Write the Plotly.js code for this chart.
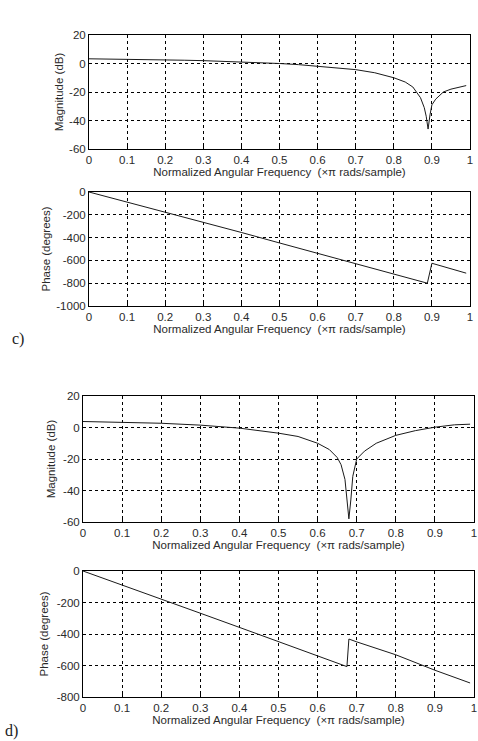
<!DOCTYPE html>
<html>
<head>
<meta charset="utf-8">
<script src="https://cdn.plot.ly/plotly-3.0.1.min.js"></script>
<style>html,body{margin:0;padding:0;background:#fff;}#chart{width:478px;height:741px;}</style>
</head>
<body>
<div id="chart"></div>
<script>
// ---- Data ----
// c) magnitude response
const freqMagC = [0,0.05,0.1,0.15,0.2,0.25,0.3,0.35,0.4,0.45,0.5,0.55,0.6,0.65,0.7,0.75,0.8,0.83,0.85,0.87,0.88,0.885,0.89,0.895,0.9,0.91,0.93,0.95,0.97,0.99];
const magC = [3.3,3.2,3.0,2.8,2.6,2.3,2.0,1.6,1.1,0.6,0,-0.8,-1.8,-3,-4.3,-6.5,-10,-13,-16.5,-24,-31,-37,-46,-36,-29,-25,-20,-18,-16.5,-15.5];
// c) phase response
const freqPhC = [0,0.1,0.2,0.3,0.4,0.5,0.6,0.7,0.8,0.888,0.9,0.99];
const phC = [0,-88,-176,-265,-355,-447,-537,-626,-715,-800,-625,-712];
// d) magnitude response
const freqMagD = [0,0.1,0.2,0.3,0.4,0.5,0.55,0.6,0.63,0.65,0.66,0.67,0.675,0.68,0.685,0.69,0.7,0.72,0.75,0.8,0.85,0.9,0.95,0.99];
const magD = [3.8,3.4,2.7,1.5,-0.4,-3.6,-5.7,-10,-14,-19,-23.6,-33,-43.6,-58,-46,-31,-20,-15,-10,-5,-2,0.2,1.7,2.1];
// d) phase response
const freqPhD = [0,0.1,0.2,0.3,0.4,0.5,0.6,0.675,0.68,0.7,0.8,0.87,0.9,0.99];
const phD = [0,-88,-178,-268,-358,-448,-538,-607,-432,-450,-532,-600,-630,-711];

// tick labels
const xTickVals = [0,0.1,0.2,0.3,0.4,0.5,0.6,0.7,0.8,0.9,1];
const xTickText = ['0','0.1','0.2','0.3','0.4','0.5','0.6','0.7','0.8','0.9','1'];
const magTickVals = [-60,-40,-20,0,20];
const magTickText = ['-60','-40','-20','0','20'];
const phCTickVals = [-1000,-800,-600,-400,-200,0];
const phCTickText = ['-1000','-800','-600','-400','-200','0'];
const phDTickVals = [-800,-600,-400,-200,0];
const phDTickText = ['-800','-600','-400','-200','0'];

const xTitle = 'Normalized Angular Frequency  (\u00d7\u03c0 rads/sample)';
const W = 478, H = 741;
const FONT = 'Liberation Sans, Arial, sans-serif';
const TXT = '#2a2a2a';

function dom(a, b, size) { return [a / size, b / size]; }
function ydom(top, bottom) { return [1 - bottom / H, 1 - top / H]; }

function xaxis(anchor, d) {
  return {
    anchor: anchor, domain: d, range: [0, 1],
    tickvals: xTickVals, ticktext: xTickText,
    ticks: 'inside', ticklen: 3, tickcolor: '#000',
    showline: true, linecolor: '#000', linewidth: 1, mirror: 'ticks',
    showgrid: true, gridcolor: '#000', gridwidth: 1, griddash: 'dot',
    zeroline: false,
    tickfont: {family: FONT, size: 11.5, color: TXT},
    title: {text: xTitle, font: {family: FONT, size: 11.5, color: TXT}, standoff: 3},
    fixedrange: true
  };
}
function yaxis(anchor, d, range, tv, tt, title, standoff) {
  return {
    anchor: anchor, domain: d, range: range,
    tickvals: tv, ticktext: tt,
    ticks: 'inside', ticklen: 3, tickcolor: '#000',
    showline: true, linecolor: '#000', linewidth: 1, mirror: 'ticks',
    showgrid: true, gridcolor: '#000', gridwidth: 1, griddash: 'dot',
    zeroline: false,
    tickfont: {family: FONT, size: 11.5, color: TXT},
    title: {text: title, font: {family: FONT, size: 11.5, color: TXT}, standoff: standoff},
    fixedrange: true
  };
}

const lineStyle = {color: '#1a1a1a', width: 1};
const traces = [
  {x: freqMagC, y: magC, xaxis: 'x', yaxis: 'y', mode: 'lines', line: lineStyle, hoverinfo: 'skip'},
  {x: freqPhC, y: phC, xaxis: 'x2', yaxis: 'y2', mode: 'lines', line: lineStyle, hoverinfo: 'skip'},
  {x: freqMagD, y: magD, xaxis: 'x3', yaxis: 'y3', mode: 'lines', line: lineStyle, hoverinfo: 'skip'},
  {x: freqPhD, y: phD, xaxis: 'x4', yaxis: 'y4', mode: 'lines', line: lineStyle, hoverinfo: 'skip'}
];

const xdAB = dom(89, 470, W);
const xdCD = dom(83, 474, W);

const layout = {
  width: W, height: H,
  margin: {l: 0, r: 0, t: 0, b: 0},
  paper_bgcolor: '#fff', plot_bgcolor: '#fff',
  showlegend: false,
  xaxis: xaxis('y', xdAB),
  yaxis: yaxis('x', ydom(35, 149), [-60, 20], magTickVals, magTickText, 'Magnitude (dB)', 3),
  xaxis2: xaxis('y2', xdAB),
  yaxis2: yaxis('x2', ydom(192, 306), [-1000, 0], phCTickVals, phCTickText, 'Phase (degrees)', 3),
  xaxis3: xaxis('y3', xdCD),
  yaxis3: yaxis('x3', ydom(396, 522), [-60, 20], magTickVals, magTickText, 'Magnitude (dB)', 5),
  xaxis4: xaxis('y4', xdCD),
  yaxis4: yaxis('x4', ydom(571, 697), [-800, 0], phDTickVals, phDTickText, 'Phase (degrees)', 5),
  annotations: [
    {text: 'c)', x: 10 / W, y: 1 - 339 / H, xref: 'paper', yref: 'paper', xanchor: 'left', yanchor: 'middle', showarrow: false,
     font: {family: 'Liberation Serif, Times New Roman, serif', size: 16, color: '#222'}},
    {text: 'd)', x: 3 / W, y: 1 - 731 / H, xref: 'paper', yref: 'paper', xanchor: 'left', yanchor: 'middle', showarrow: false,
     font: {family: 'Liberation Serif, Times New Roman, serif', size: 16, color: '#222'}}
  ]
};

Plotly.newPlot('chart', traces, layout, {staticPlot: true, displayModeBar: false});
</script>
</body>
</html>
